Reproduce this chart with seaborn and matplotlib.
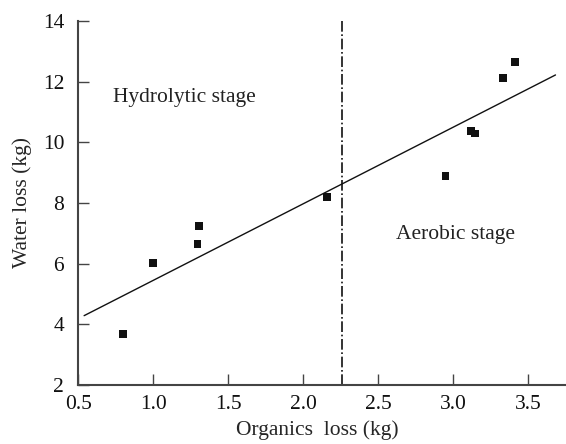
import numpy as np
import pandas as pd
import matplotlib
matplotlib.use("Agg")
import matplotlib.pyplot as plt
import seaborn as sns

## Data
organics_loss = [0.80, 1.00, 1.295, 1.307, 2.158, 2.947, 3.118, 3.142, 3.331, 3.413]
water_loss = [3.67, 6.01, 6.64, 7.23, 8.20, 8.90, 10.37, 10.29, 12.11, 12.65]
fit_range = [0.54, 3.68]
stage_split = 2.26
stage_labels = ["Hydrolytic stage", "Aerobic stage"]

df = pd.DataFrame({"x": organics_loss, "y": water_loss})

# least squares fit line
slope, intercept = np.polyfit(df["x"], df["y"], 1)
fit_x = np.linspace(fit_range[0], fit_range[1], 50)
fit_df = pd.DataFrame({"x": fit_x, "y": slope * fit_x + intercept})

sns.set_theme(style="ticks")
plt.rcParams["font.family"] = ["Liberation Serif", "DejaVu Serif"]

fig = plt.figure(figsize=(5.66, 4.44), dpi=100)
ax = fig.add_axes([0.138, 0.133, 0.862, 0.820])

sns.lineplot(data=fit_df, x="x", y="y", ax=ax, color="#111111", linewidth=1.0)
sns.scatterplot(data=df, x="x", y="y", ax=ax, marker="s", s=32, color="#111111",
                edgecolor="none", zorder=3)
ax.axvline(stage_split, color="#111111", linestyle="-.", linewidth=1.2)

ax.text(0.735, 11.49, stage_labels[0], fontsize=15.5, va="center", ha="left", color="#222222")
ax.text(2.62, 6.97, stage_labels[1], fontsize=15.5, va="center", ha="left", color="#222222")

ax.set_xlim(0.5, 3.75)
ax.set_ylim(2, 14)
ax.set_xticks([0.5, 1.0, 1.5, 2.0, 2.5, 3.0, 3.5])
ax.set_xticklabels(["0.5", "1.0", "1.5", "2.0", "2.5", "3.0", "3.5"])
ax.set_yticks([2, 4, 6, 8, 10, 12, 14])

ax.tick_params(direction="in", length=8, width=1, colors="#444444", labelcolor="#111111",
               labelsize=15.5)
ax.tick_params(axis="x", pad=7)
ax.tick_params(axis="y", pad=10)
for side in ["top", "right"]:
    ax.spines[side].set_visible(False)
for side in ["left", "bottom"]:
    ax.spines[side].set_color("#444444")
    ax.spines[side].set_linewidth(1.5)

ax.set_xlabel("Organics  loss (kg)", fontsize=15.5)
ax.set_ylabel("Water loss (kg)", fontsize=15.5)
ax.xaxis.set_label_coords(0.49, -0.097)
ax.yaxis.set_label_coords(-0.095, 0.5)

fig.savefig("out.png", dpi=100)
